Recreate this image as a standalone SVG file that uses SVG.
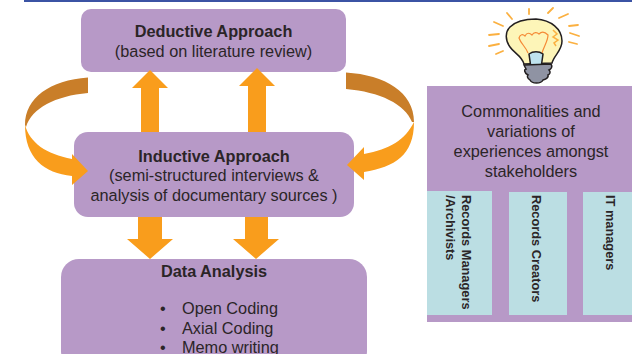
<svg xmlns="http://www.w3.org/2000/svg" width="632" height="354" viewBox="0 0 632 354">
<style>
.box{fill:#b799c7}
.a{fill:#f99d1c}
.d{fill:#c97e29}
.c{fill:#bbdee3}
text{font-family:"Liberation Sans",Arial,sans-serif;fill:#2b2527;font-size:16.3px}
.m{text-anchor:middle}
.b{font-weight:bold}
.v{font-size:12.8px;font-weight:bold}
.ray{stroke:#fbb040;stroke-width:1.800;stroke-linecap:round;fill:none}
</style>
<rect x="24" y="0" width="608" height="2" fill="#3b53a4"/>
<g id="deductive">
<rect class="box" x="81" y="9" width="265" height="63" rx="10"/>
<text class="m b" x="213.500" y="37">Deductive Approach</text>
<text class="m" x="213.500" y="57">(based on literature review)</text>
</g>
<g id="inductive">
<rect class="box" x="74" y="132" width="280" height="85" rx="14"/>
<text class="m b" x="214" y="162">Inductive Approach</text>
<text class="m" x="214" y="181">(semi-structured interviews &amp;</text>
<text class="m" x="214" y="201">analysis of documentary sources )</text>
</g>
<g id="analysis">
<rect class="box" x="61" y="259" width="306" height="110" rx="18"/>
<text class="m b" x="214" y="277">Data Analysis</text>
<text x="160" y="314">•</text><text x="182" y="314">Open Coding</text>
<text x="160" y="334">•</text><text x="182" y="334">Axial Coding</text>
<text x="160" y="352.500">•</text><text x="182" y="352.500">Memo writing</text>
</g>
<g id="bulb">
<path class="ray" d="M529 9V14M553 8L548 13M568 14L559 18M569 26L578 25M570 33L579 36M569 42L577 44M507 13L512 19M494 22L503 26M489 35L499 34M489 46L499 44M496 54L503 51"/>
<path d="M524 64C522 56 514 53 510 47C505 40 505 32 510 27C517 20 527 19 536 19C551 20 562 29 562 41C562 51 554 55 552 63Z" fill="#fdf5b8" stroke="#231f20" stroke-width="1.500"/>
<path d="M528 53C526 47 521 44 519 38C520 34 523 34 525 36C527 32 530 33 532 35C534 32 537 32 539 34C542 31 545 32 548 35C548 41 544 46 542 53" fill="none" stroke="#f58a36" stroke-width="1.200"/>
<path d="M553 30L557 34L553 37L558 40L554 43L556 46" fill="none" stroke="#fbb040" stroke-width="1.500"/>
<path d="M529 54C533 51 539 51 543 54L541 68H531Z" fill="#bfe3ee" stroke="#231f20" stroke-width="1.500"/>
<path d="M524 65L551 64C553 67 551 69 549 70C551 72 550 74 548 75C549 78 546 79 543 80C541 84 532 84 530 80C527 78 527 76 528 75C524 73 524 69 526 69Z" fill="#8f93a3" stroke="#231f20" stroke-width="1.500"/>
</g>
<g id="stakeholders">
<rect class="box" x="427" y="86" width="205" height="236"/>
<text class="m" x="531" y="117">Commonalities and</text>
<text class="m" x="531" y="137">variations of</text>
<text class="m" x="531" y="157">experiences amongst</text>
<text class="m" x="531" y="177">stakeholders</text>
<rect class="c" x="427" y="191" width="65" height="124"/>
<rect class="c" x="509" y="192" width="58" height="123"/>
<rect class="c" x="583" y="192" width="49" height="123"/>
<text class="v" transform="translate(462 195) rotate(90)">Records Managers</text>
<text class="v" transform="translate(446 195) rotate(90)">/Archivists</text>
<text class="v" transform="translate(532 195) rotate(90)">Records Creators</text>
<text class="v" transform="translate(606 195) rotate(90)">IT managers</text>
</g>
<g id="connectors">
<path class="a" d="M141 132V88H132L150 70L168 88H159V132Z"/>
<path class="a" d="M248 132V86H239L257 68L275 86H266V132Z"/>
<path class="a" d="M138 217H162V239H173L150 259L127 239H138Z"/>
<path class="a" d="M245 217H268V239H279L256 259L233 239H245Z"/>
<path class="d" d="M88 77.500V93C55 96 32 108 26 127L25 125C25 98 50 80 88 77.500Z"/>
<path class="a" d="M25 125C30 143 46 154 72 159V154L88 171L72 185V176C44 173 25 158 25 125Z"/>
<path class="d" d="M346 72.500V89C380 92 405 104 412 122L414 122C414 92 385 75 346 72.500Z"/>
<path class="a" d="M414 122C405 140 390 149 364 154V147L347 165L364 180V172C395 167 414 155 414 122Z"/>
</g>
</svg>
